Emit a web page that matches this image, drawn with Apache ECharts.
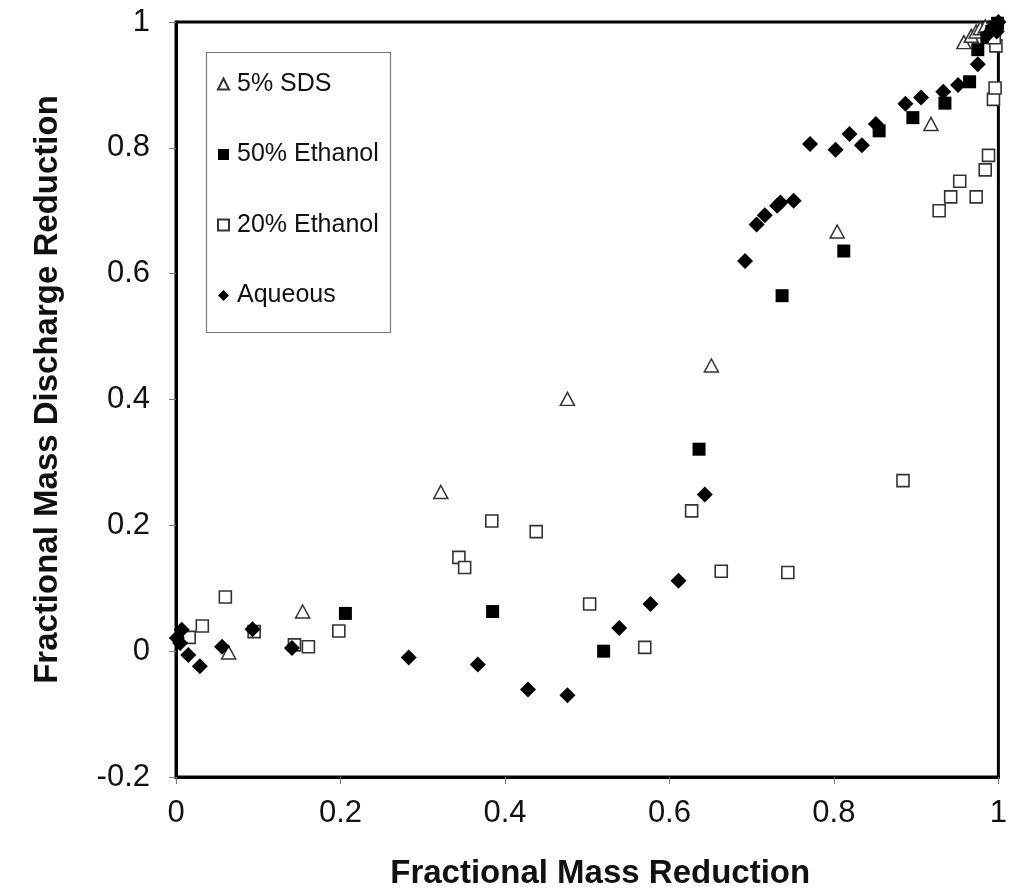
<!DOCTYPE html>
<html>
<head>
<meta charset="utf-8">
<script src="https://cdn.jsdelivr.net/npm/echarts@6/dist/echarts.min.js"></script>
<style>
html,body{margin:0;padding:0;background:#fff;overflow:hidden;}
#chart{width:1010px;height:895px;}
</style>
</head>
<body>
<div id="chart"></div>
<script>
// ---- data (x = Fractional Mass Reduction, y = Fractional Mass Discharge Reduction) ----
const seriesNames = ['5% SDS', '50% Ethanol', '20% Ethanol', 'Aqueous'];

const sds5 = [
  [0.064, -0.002], [0.154, 0.063], [0.322, 0.253], [0.476, 0.401], [0.651, 0.454],
  [0.804, 0.667], [0.918, 0.838], [0.958, 0.968], [0.967, 0.978], [0.973, 0.985],
  [0.978, 0.990], [0.984, 0.993]
];

const ethanol50 = [
  [0.206, 0.060], [0.385, 0.063], [0.520, 0.000], [0.636, 0.321], [0.737, 0.565],
  [0.812, 0.636], [0.855, 0.827], [0.896, 0.848], [0.935, 0.871], [0.965, 0.905],
  [0.975, 0.956], [0.986, 0.975], [0.992, 0.985], [0.996, 0.992], [0.999, 0.998]
];

const ethanol20 = [
  [0.016, 0.022], [0.032, 0.040], [0.060, 0.086], [0.095, 0.031], [0.144, 0.010],
  [0.161, 0.007], [0.198, 0.032], [0.344, 0.149], [0.351, 0.133], [0.384, 0.207],
  [0.438, 0.190], [0.503, 0.075], [0.570, 0.006], [0.627, 0.223], [0.663, 0.127],
  [0.744, 0.125], [0.884, 0.271], [0.928, 0.700], [0.942, 0.722], [0.953, 0.747],
  [0.973, 0.722], [0.984, 0.765], [0.988, 0.788], [0.994, 0.877], [0.996, 0.895],
  [0.997, 0.962], [0.995, 0.975]
];

const aqueous = [
  [0.001, 0.021], [0.005, 0.013], [0.007, 0.034], [0.015, -0.006], [0.029, -0.024],
  [0.056, 0.007], [0.093, 0.035], [0.141, 0.005], [0.283, -0.010], [0.367, -0.021],
  [0.428, -0.061], [0.476, -0.070], [0.539, 0.037], [0.577, 0.075], [0.611, 0.112],
  [0.643, 0.249], [0.692, 0.620], [0.706, 0.678], [0.716, 0.693], [0.731, 0.708],
  [0.735, 0.713], [0.751, 0.716], [0.771, 0.806], [0.802, 0.797], [0.819, 0.822],
  [0.834, 0.804], [0.851, 0.838], [0.887, 0.870], [0.906, 0.880], [0.933, 0.889],
  [0.951, 0.900], [0.975, 0.933], [0.987, 0.980], [0.993, 0.990], [0.997, 0.995],
  [1.000, 1.000], [0.998, 0.985]
];

const xTicks = { min: 0, max: 1, interval: 0.2 };
const yTicks = { min: -0.2, max: 1, interval: 0.2 };
const xTitle = 'Fractional Mass Reduction';
const yTitle = 'Fractional Mass Discharge Reduction';

// ---- chart ----
const FONT = "'Liberation Sans', Arial, Helvetica, sans-serif";
const fmt = v => String(+(+v).toFixed(1));
const chart = echarts.init(document.getElementById('chart'), null, { renderer: 'canvas' });

const axisCommon = {
  type: 'value',
  splitLine: { show: false },
  axisLine: { show: true, onZero: false, lineStyle: { color: '#000', width: 3 } },
  axisTick: { show: true, inside: false, length: 7, lineStyle: { color: '#777', width: 1 } },
  nameLocation: 'middle'
};

chart.setOption({
  animation: false,
  backgroundColor: '#fff',
  grid: { left: 176, right: 5, top: 22, bottom: 116, show: true, borderColor: '#000', borderWidth: 3 },
  xAxis: Object.assign({}, axisCommon, {
    min: xTicks.min, max: xTicks.max, interval: xTicks.interval,
    name: xTitle, nameGap: 80,
    nameTextStyle: { fontFamily: FONT, fontSize: 33, fontWeight: 'bold', color: '#111', padding: [0, 0, 0, 26] },
    axisLabel: { fontFamily: FONT, fontSize: 31, color: '#111', margin: 21, formatter: fmt }
  }),
  yAxis: Object.assign({}, axisCommon, {
    min: yTicks.min, max: yTicks.max, interval: yTicks.interval,
    name: yTitle, nameGap: 112,
    nameTextStyle: { fontFamily: FONT, fontSize: 33, fontWeight: 'bold', color: '#111', padding: [0, 0, 0, 20] },
    axisLabel: { fontFamily: FONT, fontSize: 31, color: '#111', margin: 26, formatter: fmt }
  }),
  legend: {
    orient: 'vertical', left: 217, top: 71,
    itemGap: 44.5, itemWidth: 11, itemHeight: 11,
    padding: 0,
    textStyle: { fontFamily: FONT, fontSize: 25, color: '#111', lineHeight: 26, padding: [0, 0, 0, 3] },
    data: seriesNames
  },
  graphic: [{
    type: 'rect', left: 204, top: 50, z: 0, silent: true,
    shape: { width: 184, height: 280 },
    style: { fill: 'none', stroke: '#777', lineWidth: 1.2 }
  }],
  series: [
    {
      name: seriesNames[0], type: 'scatter', data: sds5,
      symbol: 'triangle', symbolSize: [14, 13],
      itemStyle: { color: '#fff', borderColor: '#333', borderWidth: 1.5, opacity: 1 }
    },
    {
      name: seriesNames[1], type: 'scatter', data: ethanol50,
      symbol: 'rect', symbolSize: 13,
      itemStyle: { color: '#000', opacity: 1 }
    },
    {
      name: seriesNames[2], type: 'scatter', data: ethanol20,
      symbol: 'rect', symbolSize: 12,
      itemStyle: { color: '#fff', borderColor: '#333', borderWidth: 1.6, opacity: 1 }
    },
    {
      name: seriesNames[3], type: 'scatter', data: aqueous,
      symbol: 'diamond', symbolSize: [16, 16],
      itemStyle: { color: '#000', opacity: 1 }
    }
  ]
});
</script>
</body>
</html>
